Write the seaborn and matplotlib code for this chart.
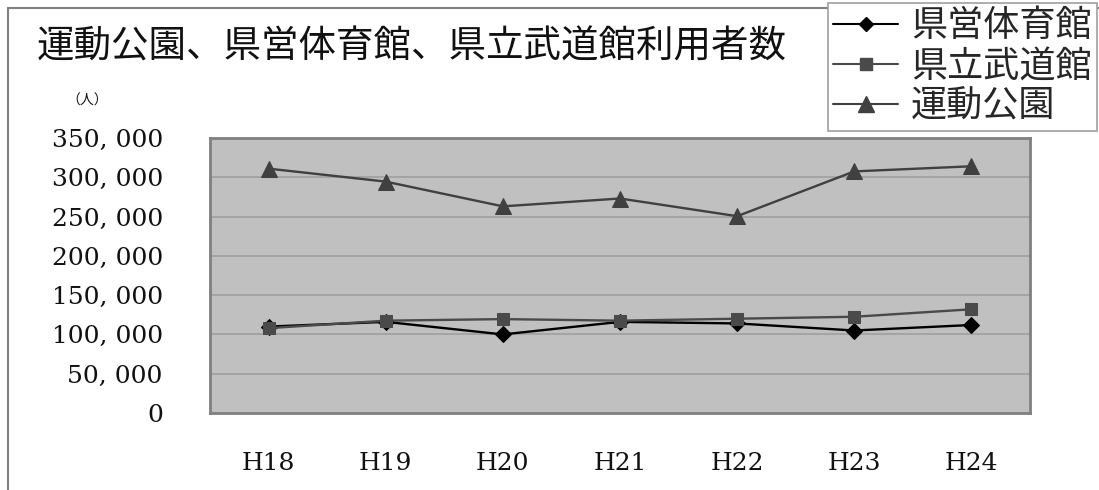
import matplotlib
matplotlib.use("Agg")
import matplotlib.pyplot as plt
from matplotlib.lines import Line2D
from matplotlib.ticker import FixedLocator, FuncFormatter
import pandas as pd
import seaborn as sns

# --- data ---
years = ["H18", "H19", "H20", "H21", "H22", "H23", "H24"]
gym = [110000, 116000, 100000, 116000, 114000, 105000, 112000]       # 県営体育館
budokan = [108000, 117500, 119500, 117500, 120000, 122500, 132000]   # 県立武道館
park = [311000, 294500, 263000, 273000, 250500, 307500, 314000]      # 運動公園

series_names = ["県営体育館", "県立武道館", "運動公園"]
y_ticks = [0, 50000, 100000, 150000, 200000, 250000, 300000, 350000]

rows = []
for name, vals in zip(series_names, [gym, budokan, park]):
    for yr, v in zip(years, vals):
        rows.append({"year": yr, "users": v, "facility": name})
df = pd.DataFrame(rows)

sns.set_theme(style="white")
plt.rcParams["font.family"] = ["Noto Sans CJK JP", "DejaVu Sans"]

W, H = 1099, 490
fig = plt.figure(figsize=(W / 100, H / 100), dpi=100)
ax = fig.add_axes([210 / W, (H - 413) / H, 820 / W, 275 / H])
ax.set_facecolor("#c0c0c0")

palette = {"県営体育館": "#000000", "県立武道館": "#4a4a4a", "運動公園": "#404040"}
markers = {"県営体育館": "D", "県立武道館": "s", "運動公園": "^"}
sizes_map = {"県営体育館": 8, "県立武道館": 9, "運動公園": 12}

sns.lineplot(data=df, x="year", y="users", hue="facility", style="facility",
             hue_order=series_names, style_order=series_names,
             palette=palette, markers=markers, dashes=False,
             linewidth=1.7, ax=ax, legend=False, sort=False)
for line, name in zip(ax.get_lines(), series_names):
    line.set_markersize(sizes_map[name])
    line.set_markeredgecolor(palette[name])
    line.set_markerfacecolor(palette[name])

ax.set_xlim(-0.5, len(years) - 0.5)
ax.set_ylim(0, 350000)
ax.yaxis.set_major_locator(FixedLocator(y_ticks))
ax.yaxis.set_major_formatter(FuncFormatter(lambda v, p: f"{int(v):,}".replace(",", ", ")))
ax.grid(axis="y", color="#a4a4a4", linewidth=1.4)
ax.set_axisbelow(True)

ax.set_xticks(range(len(years)))
ax.set_xticklabels(years)
ax.set_xticks([i + 0.5 for i in range(len(years) - 1)], minor=True)
ax.tick_params(axis="x", which="major", length=0, pad=28)
ax.tick_params(axis="x", which="minor", direction="in", length=8, width=1, color="#808080")
ax.tick_params(axis="y", length=0, pad=34)
for lab in ax.get_xticklabels() + ax.get_yticklabels():
    lab.set_family("DejaVu Serif")
    lab.set_fontsize(18)
    lab.set_color("#111111")
for s in ax.spines.values():
    s.set_color("#808080")
    s.set_linewidth(2)
ax.set_xlabel("")
ax.set_ylabel("")

# chart frame
fig.add_artist(Line2D([8 / W, 8 / W], [-0.1, 1 - 8 / H], transform=fig.transFigure,
                      color="#808080", linewidth=1.5))
fig.add_artist(Line2D([8 / W, 1.1], [1 - 8 / H, 1 - 8 / H], transform=fig.transFigure,
                      color="#808080", linewidth=1.5))

fig.text(37 / W, 1 - 47 / H, "運動公園、県営体育館、県立武道館利用者数",
         fontsize=27, va="center", ha="left", color="#111111")
fig.text(66 / W, 1 - 101 / H, "（人）", fontsize=10, va="center", ha="left", color="#111111")

handles = [Line2D([0], [0], color=palette[n], marker=markers[n], markersize=sizes_map[n] - 1,
                  linewidth=1.5) for n in series_names]
leg = fig.legend(handles, series_names, loc="upper right",
                 bbox_to_anchor=(1097 / W, 1 - 3 / H), fontsize=26, frameon=True,
                 fancybox=False, edgecolor="#a0a0a0", framealpha=1,
                 handlelength=1.8, handletextpad=0.35, labelspacing=0.12,
                 borderpad=0.15, borderaxespad=0)
leg.get_frame().set_linewidth(1.2)

fig.savefig("out.png", dpi=100, facecolor="white")
